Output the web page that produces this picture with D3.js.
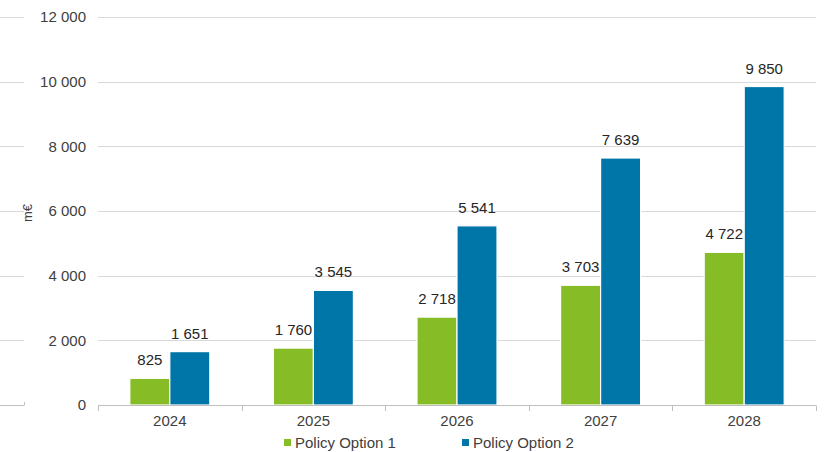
<!DOCTYPE html>
<html>
<head>
<meta charset="utf-8">
<script src="https://cdn.jsdelivr.net/npm/d3@7"></script>
<style>
  html, body { margin: 0; padding: 0; background: #fff; }
  svg { display: block; font-family: "Liberation Sans", Arial, sans-serif; }
</style>
</head>
<body>
<svg id="chart" width="828" height="452"></svg>
<script>
// Annual cost by policy option (m€)
const years = ["2024", "2025", "2026", "2027", "2028"];
const seriesNames = ["Policy Option 1", "Policy Option 2"];
const option1 = [825, 1760, 2718, 3703, 4722];
const option2 = [1651, 3545, 5541, 7639, 9850];
const yTicks = [0, 2000, 4000, 6000, 8000, 10000, 12000];
const colors = ["#86BC25", "#0076A8"];

const W = 828, H = 452;
const plot = { left: 98, right: 816, top: 17, bottom: 405 };

const svg = d3.select("#chart");
const fmt = v => d3.format(",")(v).replace(/,/g, " ");

const x = d3.scaleBand().domain(years).range([plot.left, plot.right]);
const y = d3.scaleLinear().domain([0, 12000]).range([plot.bottom, plot.top]);
const inner = d3.scaleBand().domain(seriesNames).range([-40, 40]);

// Gridlines
svg.append("g").selectAll("line").data(yTicks.filter(d => d > 0)).join("line")
  .attr("x1", plot.left).attr("x2", plot.right)
  .attr("y1", d => Math.round(y(d)) + 0.5).attr("y2", d => Math.round(y(d)) + 0.5)
  .attr("stroke", "#d9d9d9").attr("stroke-width", 1);

// Neighbouring panel's grid edge at the far left
const side = svg.append("g");
side.selectAll("line").data(yTicks).join("line")
  .attr("x1", 0).attr("x2", 24)
  .attr("y1", d => Math.round(y(d)) + 0.5).attr("y2", d => Math.round(y(d)) + 0.5)
  .attr("stroke", d => d === 0 ? "#bfbfbf" : "#d9d9d9");
side.append("line")
  .attr("x1", 24.5).attr("x2", 24.5)
  .attr("y1", Math.round(y(0)) + 0.5).attr("y2", Math.round(y(0)) - 3)
  .attr("stroke", "#bfbfbf");

// Y tick labels
svg.append("g").selectAll("text").data(yTicks).join("text")
  .attr("x", 86).attr("y", d => y(d)).attr("dy", "0.35em")
  .attr("text-anchor", "end").attr("font-size", 15).attr("fill", "#404040")
  .text(fmt);

// Y axis title
svg.append("text")
  .attr("transform", `translate(32,${(plot.top + plot.bottom) / 2 + 2}) rotate(-90)`)
  .attr("text-anchor", "middle").attr("font-size", 13).attr("fill", "#404040")
  .text("m€");

// Bars
const data = years.map((yr, i) => ({ year: yr, values: [option1[i], option2[i]] }));
const groups = svg.append("g").selectAll("g").data(data).join("g")
  .attr("transform", d => `translate(${x(d.year) + x.bandwidth() / 2},0)`);

groups.selectAll("rect").data(d => d.values.map((v, k) => ({ v, k }))).join("rect")
  .attr("x", d => inner(seriesNames[d.k]))
  .attr("width", inner.bandwidth())
  .attr("y", d => y(d.v))
  .attr("height", d => y(0) - y(d.v))
  .attr("fill", d => colors[d.k])
  .attr("stroke", "#fff").attr("stroke-width", 1.2);

groups.selectAll("text").data(d => d.values.map((v, k) => ({ v, k }))).join("text")
  .attr("x", d => inner(seriesNames[d.k]) + inner.bandwidth() / 2)
  .attr("y", d => y(d.v) - 13)
  .attr("text-anchor", "middle").attr("font-size", 15).attr("fill", "#262626")
  .text(d => fmt(d.v));

// X axis line and ticks
const xa = svg.append("g").attr("stroke", "#bfbfbf");
xa.append("line")
  .attr("x1", plot.left).attr("x2", plot.right)
  .attr("y1", Math.round(y(0)) + 0.5).attr("y2", Math.round(y(0)) + 0.5);
const bounds = years.map(d => x(d)).concat([plot.right]);
xa.selectAll("line.tick").data(bounds).join("line").attr("class", "tick")
  .attr("x1", d => Math.round(d) + 0.5).attr("x2", d => Math.round(d) + 0.5)
  .attr("y1", Math.round(y(0)) + 0.5).attr("y2", Math.round(y(0)) + 6);

svg.append("g").selectAll("text").data(years).join("text")
  .attr("x", d => x(d) + x.bandwidth() / 2).attr("y", 426)
  .attr("text-anchor", "middle").attr("font-size", 15).attr("fill", "#404040")
  .text(d => d);

// Legend
const legendX = [284, 462];
const lg = svg.append("g").selectAll("g").data(seriesNames).join("g")
  .attr("transform", (d, i) => `translate(${legendX[i]},448)`);
lg.append("rect").attr("x", 0).attr("y", -9).attr("width", 7).attr("height", 7)
  .attr("fill", (d, i) => colors[i]);
lg.append("text").attr("x", 11).attr("y", 0)
  .attr("font-size", 15).attr("fill", "#404040").text(d => d);
</script>
</body>
</html>
